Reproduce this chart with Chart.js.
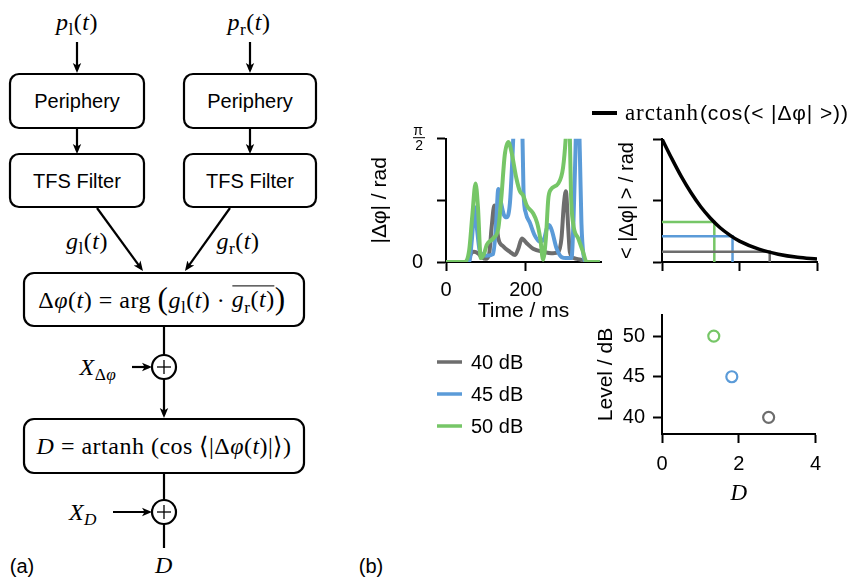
<!DOCTYPE html>
<html>
<head>
<meta charset="utf-8">
<script src="https://cdn.jsdelivr.net/npm/chart.js@4.4.1/dist/chart.umd.min.js"></script>
<style>
  html, body { margin: 0; padding: 0; background: #fff; }
  #page { position: relative; width: 860px; height: 579px; overflow: hidden; color: #000;
          font-family: 'Liberation Sans', Arial, sans-serif; }
  canvas { position: absolute; }
  .t { position: absolute; transform: translate(-50%, -50%); white-space: nowrap; font-size: 20px; line-height: 1; }
  .m { font-family: 'Liberation Serif', 'Times New Roman', serif; font-size: 24px; letter-spacing: 0.5px; }
  .m sub { font-size: 72%; vertical-align: -0.3em; line-height: 0; }
  .big { font-size: 1.3em; vertical-align: -0.05em; }
  .ov { display: inline-block; border-top: 1.5px solid #000; padding-top: 1px; line-height: 1; }
</style>
</head>
<body>
<div id="page">
  <!-- (a) block diagram -->
  <svg width="340" height="579" style="position:absolute;left:0;top:0" fill="none" stroke="#000" stroke-width="2.2">
    <defs>
      <marker id="ah" viewBox="0 0 10 10" refX="7" refY="5" markerWidth="10" markerHeight="10"
              markerUnits="userSpaceOnUse" orient="auto">
        <path d="M0,0.8 L10,5 L0,9.2 L2.6,5 z" fill="#000" stroke="none"/>
      </marker>
    </defs>
    <rect x="10" y="74" width="134" height="54" rx="9"/>
    <rect x="184" y="74" width="132" height="54" rx="9"/>
    <rect x="10" y="154" width="134" height="53" rx="9"/>
    <rect x="184" y="154" width="132" height="53" rx="9"/>
    <rect x="24" y="273" width="280" height="53" rx="10"/>
    <rect x="24" y="419" width="280" height="54" rx="10"/>
    <line x1="77" y1="42" x2="77" y2="70" marker-end="url(#ah)"/>
    <line x1="250" y1="42" x2="250" y2="70" marker-end="url(#ah)"/>
    <line x1="77" y1="128" x2="77" y2="151" marker-end="url(#ah)"/>
    <line x1="250" y1="128" x2="250" y2="151" marker-end="url(#ah)"/>
    <line x1="97" y1="208" x2="141.2" y2="268.6" marker-end="url(#ah)"/>
    <line x1="230" y1="208" x2="186.7" y2="268.6" marker-end="url(#ah)"/>
    <line x1="164" y1="326" x2="164" y2="355"/>
    <circle cx="164" cy="367" r="12"/>
    <line x1="157" y1="367" x2="171" y2="367" stroke-width="1.3"/>
    <line x1="164" y1="360" x2="164" y2="374" stroke-width="1.3"/>
    <line x1="132" y1="367" x2="149" y2="367" marker-end="url(#ah)"/>
    <line x1="164" y1="379" x2="164" y2="415" marker-end="url(#ah)"/>
    <line x1="164" y1="473" x2="164" y2="500"/>
    <circle cx="164" cy="512" r="12"/>
    <line x1="157" y1="512" x2="171" y2="512" stroke-width="1.3"/>
    <line x1="164" y1="505" x2="164" y2="519" stroke-width="1.3"/>
    <line x1="113" y1="512" x2="149" y2="512" marker-end="url(#ah)"/>
    <line x1="164" y1="524" x2="164" y2="548"/>
  </svg>
  <div class="t m" style="left:77px;top:22px"><i>p</i><sub>l</sub>(<i>t</i>)</div>
  <div class="t m" style="left:249px;top:22px"><i>p</i><sub>r</sub>(<i>t</i>)</div>
  <div class="t" style="left:77px;top:101px">Periphery</div>
  <div class="t" style="left:250px;top:101px">Periphery</div>
  <div class="t" style="left:77px;top:181px">TFS Filter</div>
  <div class="t" style="left:250px;top:181px">TFS Filter</div>
  <div class="t m" style="left:87px;top:241px"><i>g</i><sub>l</sub>(<i>t</i>)</div>
  <div class="t m" style="left:238px;top:241px"><i>g</i><sub>r</sub>(<i>t</i>)</div>
  <div class="t m" style="left:162px;top:299px">Δ<i>φ</i>(<i>t</i>) = arg <span class="big">(</span><i>g</i><sub>l</sub>(<i>t</i>) · <span class="ov"><i>g</i><sub>r</sub>(<i>t</i>)</span><span class="big">)</span></div>
  <div class="t m" style="left:98px;top:367px"><i>X</i><sub>Δ<i>φ</i></sub></div>
  <div class="t m" style="left:164px;top:446px"><i>D</i> = artanh (cos ⟨|Δ<i>φ</i>(<i>t</i>)|⟩)</div>
  <div class="t m" style="left:83px;top:512px"><i>X</i><sub><i>D</i></sub></div>
  <div class="t m" style="left:164px;top:565px"><i>D</i></div>
  <div class="t" style="left:22px;top:566px">(a)</div>
  <div class="t" style="left:371px;top:566px">(b)</div>

  <canvas id="phase" width="250" height="340" style="left:360px;top:110px"></canvas>
  <canvas id="curve" width="270" height="180" style="left:590px;top:100px"></canvas>
  <canvas id="level" width="240" height="220" style="left:590px;top:295px"></canvas>
</div>
<script>
const PI = Math.PI;

// |Δφ| over time, one trace per level
const levelLabels = ['40 dB', '45 dB', '50 dB'];
const levelColors = ['#6d6d6d', '#5b9bd8', '#76c667'];
const t40 = [0, 55, 62, 70, 80, 90, 100, 108, 114, 121, 126, 131, 143, 160, 173, 181, 190, 202, 218, 243, 268, 281, 289, 295, 300, 306, 310, 320, 337, 352, 385];
const v40 = [0, 0, 0.10, 0.13, 0.11, 0.06, 0.04, 0.10, 0.43, 0.72, 0.50, 0.30, 0.20, 0.13, 0.09, 0.17, 0.30, 0.24, 0.17, 0.13, 0.11, 0.13, 0.30, 0.73, 0.90, 0.43, 0.13, 0.05, 0.03, 0, 0];
const t45 = [0, 58, 65, 72, 78, 84, 90, 100, 118, 125, 131, 138, 145, 152, 160, 166, 172, 181, 190, 194, 200, 210, 222, 235, 246, 252, 258, 265, 277, 290, 300, 314, 319, 324, 329, 335, 339, 344, 352, 385];
const v45 = [0, 0, 0.30, 0.70, 0.40, 0.15, 0.10, 0.08, 0.10, 0.45, 0.93, 0.75, 0.60, 0.57, 0.75, 1.30, 2.00, 2.60, 2.00, 0.90, 0.62, 0.50, 0.34, 0.26, 0.30, 0.42, 0.47, 0.40, 0.17, 0.06, 0.05, 0.05, 0.50, 1.40, 2.40, 1.40, 0.50, 0.10, 0, 0];
const t50 = [0, 47, 58, 66, 74, 80, 87, 95, 102, 118, 131, 139, 147, 156, 164, 176, 185, 193, 202, 218, 228, 236, 243, 250, 256, 262, 281, 293, 300, 305, 310, 313, 318, 331, 343, 352, 385];
const v50 = [0, 0, 0.15, 0.60, 1.00, 0.70, 0.05, 0.10, 0.22, 0.30, 0.43, 0.85, 1.36, 1.53, 1.40, 1.07, 0.90, 0.85, 0.72, 0.62, 0.50, 0.30, 0.03, 0.30, 0.80, 0.92, 1.00, 1.20, 1.60, 2.10, 1.60, 0.85, 0.50, 0.30, 0.13, 0, 0];
const timeTicks = [0, 200];
const phaseTicks = [0, PI / 4, PI / 2];

// arctanh(cos(<|Δφ|>)) read back as <|Δφ|> against D
const curveD = [0, 0.25, 0.5, 0.75, 1, 1.25, 1.5, 1.75, 2, 2.5, 3, 3.5, 4];
const curvePhi = [1.571, 1.323, 1.090, 0.884, 0.705, 0.559, 0.438, 0.344, 0.266, 0.164, 0.100, 0.060, 0.037];
const dValues = [2.78, 1.82, 1.35];
const meanPhase = [0.13, 0.33, 0.51];
const levels = [40, 45, 50];
const dTicks = [0, 2, 4];
const levelTicks = [40, 45, 50];

Chart.defaults.font.family = "'Liberation Sans', Arial, sans-serif";
Chart.defaults.font.size = 20;
Chart.defaults.color = '#000';

function axis({ min, max, ticks, size, pad, label, font, title }) {
  return {
    type: 'linear', min, max,
    border: { color: '#000', width: 2 },
    grid: { drawOnChartArea: false, tickLength: 9, tickWidth: 2, tickColor: '#000' },
    ticks: { color: '#000', padding: pad, callback: label || (() => ''), font: font || { size: 20 } },
    afterBuildTicks: s => { s.ticks = ticks.map(v => ({ value: v })); },
    afterFit: s => { if (s.isHorizontal()) s.height = size; else s.width = size; },
    title: title ? Object.assign({ display: true, color: '#000', font: { size: 21 } }, title) : { display: false },
  };
}

const zip = (xs, ys) => xs.map((x, i) => ({ x, y: ys[i] }));

// legend under the time plot + the pi/2 fraction bar
const phaseExtras = {
  id: 'phaseExtras',
  afterDraw(chart, args, o) {
    const { ctx, chartArea } = chart;
    ctx.save();
    chart.data.datasets.forEach((ds, i) => {
      const y = o.top + i * o.gap;
      ctx.strokeStyle = ds.borderColor;
      ctx.lineWidth = 3.5;
      ctx.beginPath(); ctx.moveTo(o.left, y); ctx.lineTo(o.left + 25, y); ctx.stroke();
      ctx.fillStyle = '#000';
      ctx.font = "20px 'Liberation Sans'";
      ctx.textBaseline = 'middle';
      ctx.fillText(ds.label, o.left + 34, y + 1);
    });
    const yTop = chart.scales.y.getPixelForValue(PI / 2);
    ctx.strokeStyle = '#000'; ctx.lineWidth = 1;
    ctx.beginPath(); ctx.moveTo(chartArea.left - 33, yTop - 1); ctx.lineTo(chartArea.left - 21, yTop - 1); ctx.stroke();
    ctx.restore();
  }
};

new Chart(document.getElementById('phase'), {
  type: 'line',
  data: {
    datasets: [[t40, v40], [t45, v45], [t50, v50]].map(([t, v], i) => ({
      label: levelLabels[i],
      data: zip(t, v),
      borderColor: levelColors[i],
      borderWidth: 4,
      pointRadius: 0,
      cubicInterpolationMode: 'monotone',
      order: 2 - i,
    })),
  },
  options: {
    responsive: false, animation: false,
    layout: { padding: { left: 4, top: 28, right: 9, bottom: 122 } },
    plugins: { legend: { display: false }, tooltip: { enabled: false }, phaseExtras: { left: 77, top: 252, gap: 32 } },
    scales: {
      x: axis({ min: 0, max: 388, ticks: timeTicks, size: 66, pad: 7, label: v => String(v),
                title: { text: 'Time / ms' } }),
      y: axis({ min: 0, max: PI / 2, ticks: phaseTicks, size: 82, pad: 14,
                label: (v, i) => i === 0 ? '0' : i === 2 ? ['π', '2'] : '',
                font: c => (c.index === 2 ? { size: 14, lineHeight: 1.05 } : { size: 20 }),
                title: { text: '|Δφ| / rad' } }),
    },
  },
  plugins: [phaseExtras],
});

const curveLegend = {
  id: 'curveLegend',
  afterDraw(chart, args, o) {
    const { ctx } = chart;
    ctx.save();
    ctx.strokeStyle = '#000'; ctx.lineWidth = 4;
    ctx.beginPath(); ctx.moveTo(o.left, o.top); ctx.lineTo(o.left + 25, o.top); ctx.stroke();
    ctx.fillStyle = '#000'; ctx.textBaseline = 'middle';
    ctx.letterSpacing = '0.9px';
    ctx.font = "23px 'Liberation Serif'";
    let x = o.left + 33;
    ctx.fillText('arctanh', x, o.top + 1);
    x += ctx.measureText('arctanh').width + 1;
    ctx.font = "21px 'Liberation Sans'";
    ctx.fillText('(cos(< |Δφ| >))', x, o.top + 1);
    ctx.restore();
  }
};

new Chart(document.getElementById('curve'), {
  type: 'line',
  data: {
    datasets: [
      { data: zip(curveD, curvePhi), borderColor: '#000', borderWidth: 3.5, pointRadius: 0,
        cubicInterpolationMode: 'monotone', order: 0 },
      ...dValues.map((d, i) => ({
        data: [{ x: 0, y: meanPhase[i] }, { x: d, y: meanPhase[i] }, { x: d, y: 0 }],
        borderColor: levelColors[i], borderWidth: 2.5, pointRadius: 0, tension: 0, order: 1,
      })),
    ],
  },
  options: {
    responsive: false, animation: false,
    layout: { padding: { left: 21, top: 39, right: 43, bottom: 0 } },
    plugins: { legend: { display: false }, tooltip: { enabled: false }, curveLegend: { left: 2, top: 13 } },
    scales: {
      x: axis({ min: 0, max: 4, ticks: dTicks, size: 18, pad: 0 }),
      y: axis({ min: 0, max: PI / 2, ticks: phaseTicks, size: 51, pad: 0,
                title: { text: '< |Δφ| > / rad', font: { size: 20 } } }),
    },
  },
  plugins: [curveLegend],
});

new Chart(document.getElementById('level'), {
  type: 'scatter',
  data: {
    datasets: [{
      data: zip(dValues, levels),
      pointRadius: 5.5, pointBorderWidth: 2.2,
      pointBorderColor: levelColors, pointBackgroundColor: '#fff',
    }],
  },
  options: {
    responsive: false, animation: false,
    layout: { padding: { left: 0, top: 15, right: 13, bottom: 3 } },
    plugins: { legend: { display: false }, tooltip: { enabled: false } },
    scales: {
      x: axis({ min: 0, max: 4, ticks: dTicks, size: 78, pad: 9, label: v => String(v),
                title: { text: 'D', font: { family: "'Liberation Serif'", style: 'italic', size: 23 } } }),
      y: axis({ min: 37.95, max: 52.6, ticks: levelTicks, size: 72, pad: 8, label: v => String(v),
                title: { text: 'Level / dB' } }),
    },
  },
});
</script>
</body>
</html>
